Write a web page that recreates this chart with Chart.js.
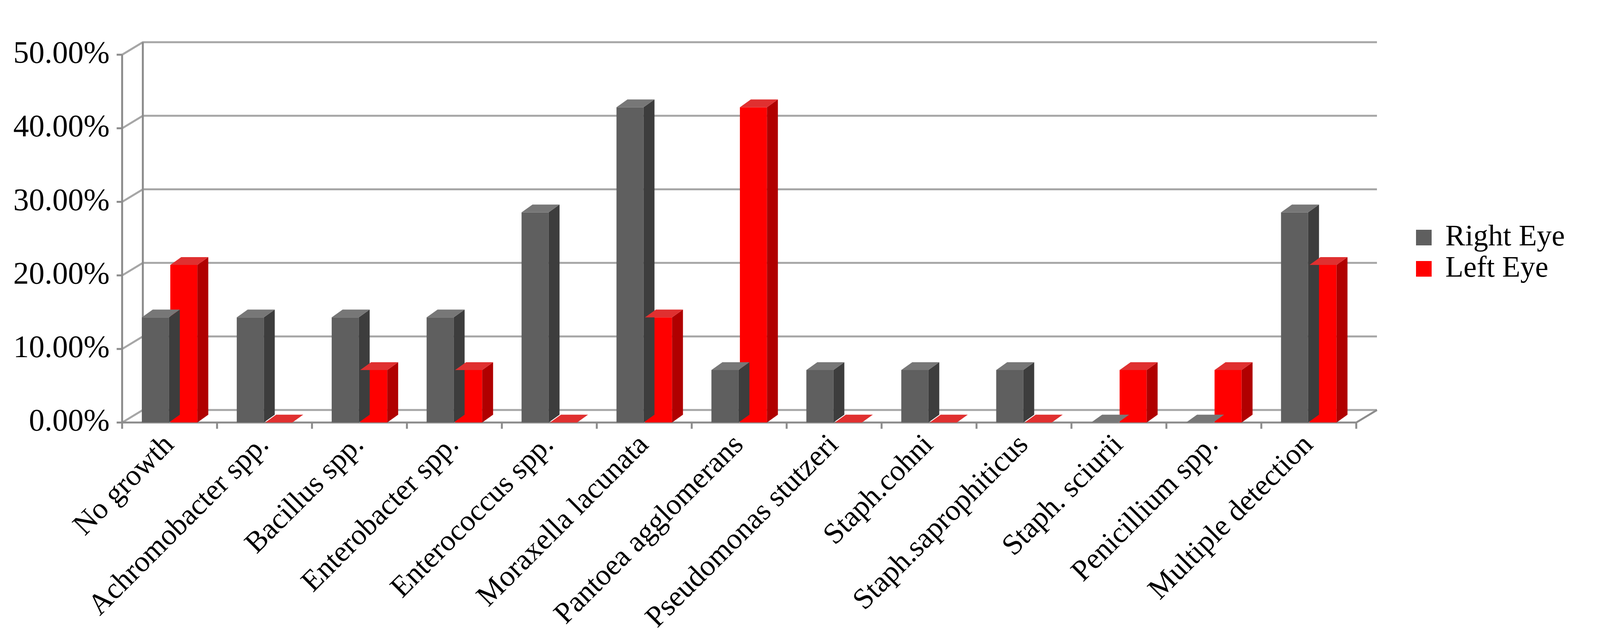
<!DOCTYPE html>
<html>
<head>
<meta charset="utf-8">
<script src="https://cdn.jsdelivr.net/npm/chart.js@4.4.0/dist/chart.umd.min.js"></script>
<style>
  html, body { margin: 0; padding: 0; background: #fff; }
  #wrap { width: 4139px; height: 1643px; }
</style>
</head>
<body>
<div id="wrap"><canvas id="chart"></canvas></div>
<script>
const categories = ['No growth', 'Achromobacter spp.', 'Bacillus spp.', 'Enterobacter spp.', 'Enterococcus spp.',
    'Moraxella lacunata', 'Pantoea agglomerans', 'Pseudomonas stutzeri', 'Staph.cohni',
    'Staph.saprophiticus', 'Staph. sciurii', 'Penicillium spp.', 'Multiple detection'];
const rightEye = [14.29, 14.29, 14.29, 14.29, 28.57, 42.86, 7.14, 7.14, 7.14, 7.14, 0, 0, 28.57];
const leftEye = [21.43, 0, 7.14, 7.14, 0, 14.29, 42.86, 0, 0, 0, 7.14, 7.14, 21.43];
const seriesNames = ['Right Eye', 'Left Eye'];

const DX = 53, DY = 32;   // wall depth
const BX = 28, BY = 20;   // bar depth
const faces = [
    { front: '#5f5f5f', side: '#3d3d3d', top: '#777777' },
    { front: '#ff0000', side: '#b00000', top: '#e03030' }
];

const wall3d = {
    id: 'wall3d',
    beforeDatasetsDraw(chart) {
        const { ctx, chartArea: a, scales: { y } } = chart;
        ctx.save();
        ctx.strokeStyle = '#a6a6a6';
        ctx.lineWidth = 5;
        y.ticks.forEach(t => {
            const py = y.getPixelForValue(t.value);
            ctx.beginPath();
            ctx.moveTo(a.left, py);
            ctx.lineTo(a.left + DX, py - DY);
            ctx.lineTo(a.right + DX, py - DY);
            ctx.stroke();
        });
        ctx.strokeStyle = '#8c8c8c';
        ctx.beginPath();
        ctx.moveTo(a.left, a.bottom);
        ctx.lineTo(a.right, a.bottom);
        ctx.lineTo(a.right + DX, a.bottom - DY);
        ctx.stroke();
        ctx.beginPath();
        ctx.moveTo(a.left, a.bottom);
        ctx.lineTo(a.left, y.getPixelForValue(50));
        ctx.moveTo(a.left + DX, a.bottom - DY);
        ctx.lineTo(a.left + DX, y.getPixelForValue(50) - DY);
        ctx.stroke();
        y.ticks.forEach(t => {
            const py = y.getPixelForValue(t.value);
            ctx.beginPath(); ctx.moveTo(a.left - 14, py); ctx.lineTo(a.left, py); ctx.stroke();
        });
        const step = (a.right - a.left) / categories.length;
        for (let i = 0; i <= categories.length; i++) {
            const px = a.left + i * step;
            ctx.beginPath(); ctx.moveTo(px, a.bottom); ctx.lineTo(px, a.bottom + 16); ctx.stroke();
        }
        ctx.restore();
    },
    afterDatasetsDraw(chart) {
        const { ctx } = chart;
        ctx.save();
        chart.data.datasets.forEach((ds, di) => {
            chart.getDatasetMeta(di).data.forEach(bar => {
                const l = bar.x - bar.width / 2, r = bar.x + bar.width / 2;
                const t = bar.y, b = bar.base;
                ctx.fillStyle = faces[di].side;
                ctx.beginPath();
                ctx.moveTo(r, b); ctx.lineTo(r + BX, b - BY); ctx.lineTo(r + BX, t - BY); ctx.lineTo(r, t);
                ctx.closePath(); ctx.fill();
                ctx.fillStyle = faces[di].top;
                ctx.beginPath();
                ctx.moveTo(l, t); ctx.lineTo(l + BX, t - BY); ctx.lineTo(r + BX, t - BY); ctx.lineTo(r, t);
                ctx.closePath(); ctx.fill();
            });
        });
        // legend
        ctx.font = '76px "Liberation Serif"';
        ctx.textBaseline = 'middle';
        seriesNames.forEach((name, i) => {
            const cy = 608 + i * 80;
            ctx.fillStyle = faces[i].front;
            ctx.fillRect(3625, cy - 20, 40, 40);
            ctx.fillStyle = '#000';
            ctx.fillText(name, 3700, cy);
        });
        ctx.restore();
    }
};

new Chart(document.getElementById('chart'), {
    type: 'bar',
    data: {
        labels: categories,
        datasets: [
            { label: seriesNames[0], data: rightEye, backgroundColor: faces[0].front },
            { label: seriesNames[1], data: leftEye, backgroundColor: faces[1].front }
        ]
    },
    options: {
        responsive: true,
        maintainAspectRatio: false,
        animation: false,
        categoryPercentage: 0.6,
        barPercentage: 0.95,
        layout: { padding: { top: 140, left: 10, right: 667, bottom: 10 } },
        plugins: {
            tooltip: { enabled: false },
            legend: { display: false }
        },
        scales: {
            x: {
                grid: { display: false },
                border: { display: false },
                ticks: {
                    color: '#000',
                    font: { family: 'Liberation Serif', size: 76 },
                    maxRotation: 45, minRotation: 45,
                    autoSkip: false,
                    padding: 6
                }
            },
            y: {
                min: 0, max: 50,
                grid: { display: false },
                border: { display: false },
                ticks: {
                    stepSize: 10,
                    color: '#000',
                    padding: 24,
                    font: { family: 'Liberation Serif', size: 80 },
                    callback: v => v.toFixed(2) + '%'
                }
            }
        }
    },
    plugins: [wall3d]
});
</script>
</body>
</html>
